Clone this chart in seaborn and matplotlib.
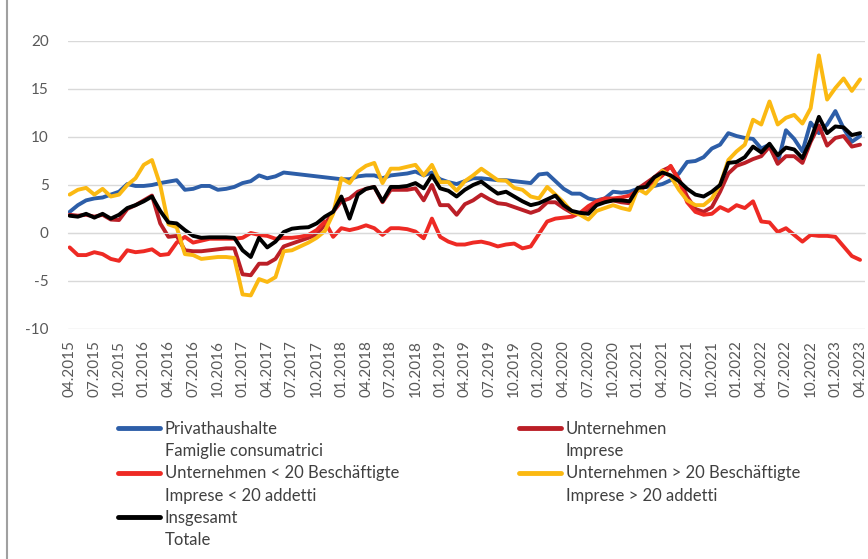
import numpy as np
import pandas as pd
import matplotlib
matplotlib.use('Agg')
import matplotlib.pyplot as plt
import seaborn as sns
from matplotlib.lines import Line2D

sns.set_style('white')
plt.rcParams['font.family'] = ['Lato', 'DejaVu Sans']
plt.rcParams['axes.unicode_minus'] = False

# Monthly observations 04.2015 - 04.2023
months = pd.date_range('2015-04-01', '2023-04-01', freq='MS').strftime('%m.%Y').tolist()

privathaushalte = [
    2.2, 2.9, 3.4, 3.6, 3.7, 4.0, 4.3, 5.1, 4.9, 4.9,
    5.0, 5.2, 5.35, 5.5, 4.5, 4.6, 4.9, 4.9, 4.5, 4.6,
    4.8, 5.2, 5.4, 6.0, 5.7, 5.9, 6.3, 6.2, 6.1, 6.0,
    5.9, 5.8, 5.7, 5.6, 5.6, 5.9, 6.0, 6.0, 5.7, 6.0,
    6.1, 6.2, 6.4, 6.0, 6.3, 5.6, 5.3, 5.1, 5.4, 5.7,
    5.7, 5.6, 5.5, 5.5, 5.4, 5.3, 5.2, 6.1, 6.2, 5.4,
    4.6, 4.1, 4.1, 3.6, 3.4, 3.6, 4.3, 4.2, 4.3, 4.6,
    4.8, 4.9, 5.1, 5.5, 6.2, 7.4, 7.5, 7.9, 8.8, 9.2,
    10.4, 10.1, 9.9, 9.8, 8.8, 9.2, 7.3, 10.7, 9.8, 8.5,
    11.5, 10.4, 11.3, 12.7, 10.9, 9.5, 10.1,
]

unternehmen = [
    1.9, 1.8, 1.9, 1.7, 1.9, 1.4, 1.35, 2.5, 2.9, 3.4,
    3.9, 1.0, -0.4, -0.3, -1.8, -1.9, -1.9, -1.8, -1.7, -1.6,
    -1.6, -4.3, -4.4, -3.2, -3.2, -2.7, -1.4, -1.1, -0.8, -0.5,
    -0.2, 0.9, 2.2, 3.3, 3.6, 4.3, 4.6, 4.8, 3.2, 4.5,
    4.5, 4.5, 4.65, 3.4, 5.0, 2.9, 2.9, 1.9, 3.0, 3.4,
    4.0, 3.5, 3.1, 3.0, 2.7, 2.4, 2.1, 2.4, 3.2, 3.2,
    2.6, 2.1, 2.0, 2.3, 3.1, 3.3, 3.4, 3.2, 3.1, 4.6,
    5.2, 5.8, 6.5, 6.9, 5.6, 3.8, 2.5, 2.2, 2.7, 4.3,
    6.2, 7.0, 7.3, 7.7, 8.0, 9.0, 7.2, 8.0, 8.0, 7.3,
    9.5, 11.2, 9.1, 9.9, 10.1, 9.0, 9.2,
]

unternehmen_klein = [
    -1.5, -2.3, -2.3, -2.0, -2.2, -2.7, -2.9, -1.8, -2.0, -1.9,
    -1.7, -2.3, -2.2, -1.0, -0.4, -1.0, -0.8, -0.6, -0.6, -0.6,
    -0.6, -0.5, 0.0, -0.2, -0.3, -0.6, -0.5, -0.5, -0.4, -0.2,
    0.3, 1.2, -0.4, 0.5, 0.3, 0.5, 0.8, 0.5, -0.2, 0.5,
    0.5, 0.4, 0.15, -0.55, 1.5, -0.4, -0.9, -1.2, -1.2, -1.0,
    -0.9, -1.1, -1.4, -1.2, -1.1, -1.6, -1.4, -0.1, 1.2, 1.5,
    1.6, 1.7, 2.1, 2.8, 3.3, 3.6, 3.6, 3.7, 3.9, 4.4,
    4.9, 5.3, 6.0, 7.0, 5.5, 3.2, 2.2, 1.9, 2.0, 2.7,
    2.3, 2.9, 2.6, 3.3, 1.2, 1.1, 0.1, 0.5, -0.2, -0.9,
    -0.2, -0.3, -0.3, -0.4, -1.4, -2.4, -2.8,
]

unternehmen_gross = [
    4.0, 4.5, 4.7, 4.0, 4.6, 3.8, 4.0, 5.0, 5.7, 7.1,
    7.6, 5.0, 0.9, 0.6, -2.2, -2.3, -2.7, -2.6, -2.5, -2.5,
    -2.6, -6.4, -6.5, -4.8, -5.1, -4.6, -1.9, -1.8, -1.4, -1.0,
    -0.5, 0.2, 2.0, 5.7, 5.2, 6.4, 7.0, 7.3, 5.2, 6.7,
    6.7, 6.9, 7.1, 6.0, 7.1, 5.3, 5.3, 4.4, 5.4, 6.0,
    6.7, 6.1, 5.5, 5.45, 4.7, 4.5, 3.8, 3.6, 4.8, 4.0,
    3.2, 2.2, 1.9, 1.4, 2.3, 2.6, 2.9, 2.6, 2.4, 4.6,
    4.1, 5.0, 6.5, 5.9, 4.5, 3.4, 2.9, 2.9, 3.6, 5.0,
    7.6, 8.5, 9.2, 11.8, 11.3, 13.7, 11.3, 12.0, 12.3, 11.4,
    13.0, 18.5, 13.9, 15.1, 16.1, 14.8, 16.0,
]

insgesamt = [
    1.8, 1.7, 2.0, 1.6, 2.0, 1.5, 1.9, 2.6, 2.9, 3.3,
    3.8, 2.3, 1.1, 1.0, 0.3, -0.3, -0.5, -0.45, -0.45, -0.45,
    -0.5, -1.8, -2.5, -0.5, -1.5, -0.9, 0.1, 0.45, 0.55, 0.6,
    1.0, 1.7, 2.2, 3.8, 1.5, 4.0, 4.6, 4.8, 3.3, 4.8,
    4.8, 4.9, 5.2, 4.65, 6.0, 4.65, 4.4, 3.8, 4.5, 5.0,
    5.35, 4.7, 4.1, 4.3, 3.8, 3.3, 2.9, 3.1, 3.5, 3.9,
    2.9, 2.3, 2.1, 2.0, 2.9, 3.2, 3.4, 3.4, 3.3, 4.7,
    4.8, 5.8, 6.3, 6.0, 5.4, 4.6, 4.0, 3.8, 4.3, 5.0,
    7.3, 7.4, 7.9, 9.0, 8.4, 9.3, 8.1, 8.9, 8.7, 7.8,
    9.7, 12.1, 10.4, 11.1, 11.0, 10.2, 10.4,
]

series = [
    ('Privathaushalte', 'Famiglie consumatrici', privathaushalte, '#2d5ea8'),
    ('Unternehmen', 'Imprese', unternehmen, '#bb1f27'),
    ('Unternehmen < 20 Beschäftigte', 'Imprese < 20 addetti', unternehmen_klein, '#ee2a24'),
    ('Unternehmen > 20 Beschäftigte', 'Imprese > 20 addetti', unternehmen_gross, '#fbb912'),
    ('Insgesamt', 'Totale', insgesamt, '#000000'),
]

fig = plt.figure(figsize=(8.68, 5.59), dpi=100)
ax = fig.add_axes([68 / 868, 1 - 329 / 559, 797 / 868, 288 / 559])

x = np.arange(len(months))
for de, it, vals, col in series:
    sns.lineplot(x=x, y=vals, ax=ax, color=col, linewidth=2.8,
                 solid_joinstyle='round', legend=False)

ax.set_xlim(-0.2, 96.6)
ax.set_ylim(-10, 20)
ax.set_yticks(range(-10, 21, 5))
ax.set_xlabel('')
ax.set_ylabel('')
ax.grid(axis='y', color='#d9d9d9', linewidth=1)
ax.grid(axis='x', visible=False)
ax.set_axisbelow(True)
for s in ['left', 'right', 'top']:
    ax.spines[s].set_visible(False)
ax.spines['bottom'].set_position(('data', 0))
ax.spines['bottom'].set_color('#d9d9d9')
ax.set_xticks(range(0, len(months), 3))
ax.tick_params(axis='x', direction='in', length=4, color='#d9d9d9', labelbottom=False)
ax.tick_params(axis='y', length=0, pad=14, labelsize=11, labelcolor='#595959')

sec = ax.secondary_xaxis('bottom')
sec.set_xticks(range(0, len(months), 3), labels=months[::3], rotation=90)
sec.tick_params(length=0, pad=8, labelsize=11, labelcolor='#595959')
sec.spines['bottom'].set_visible(False)

# legend: German label with line, Italian translation below it
blank = Line2D([], [], color='none')
def handle(c):
    return Line2D([], [], color=c, linewidth=3.5, solid_capstyle='round')

col1 = [series[0], series[2], series[4]]
col2 = [series[1], series[3]]
handles, labels = [], []
for de, it, vals, c in col1:
    handles += [handle(c), blank]
    labels += [de, it]
for de, it, vals, c in col2:
    handles += [handle(c), blank]
    labels += [de, it]
handles += [blank, blank]
labels += ['', '']

leg = fig.legend(handles, labels, ncol=2, loc='upper left',
                 bbox_to_anchor=(118 / 868, 1 - 421 / 559), frameon=False,
                 fontsize=12, handlelength=2.5, handletextpad=0.3,
                 labelspacing=0.37, columnspacing=7.2, borderpad=0, borderaxespad=0)
for t in leg.get_texts():
    t.set_color('#404040')

fig.add_artist(Line2D([7 / 868, 7 / 868], [0, 1], transform=fig.transFigure,
                      color='#a0a0a0', linewidth=1.5))

fig.savefig('out.png', dpi=100)
